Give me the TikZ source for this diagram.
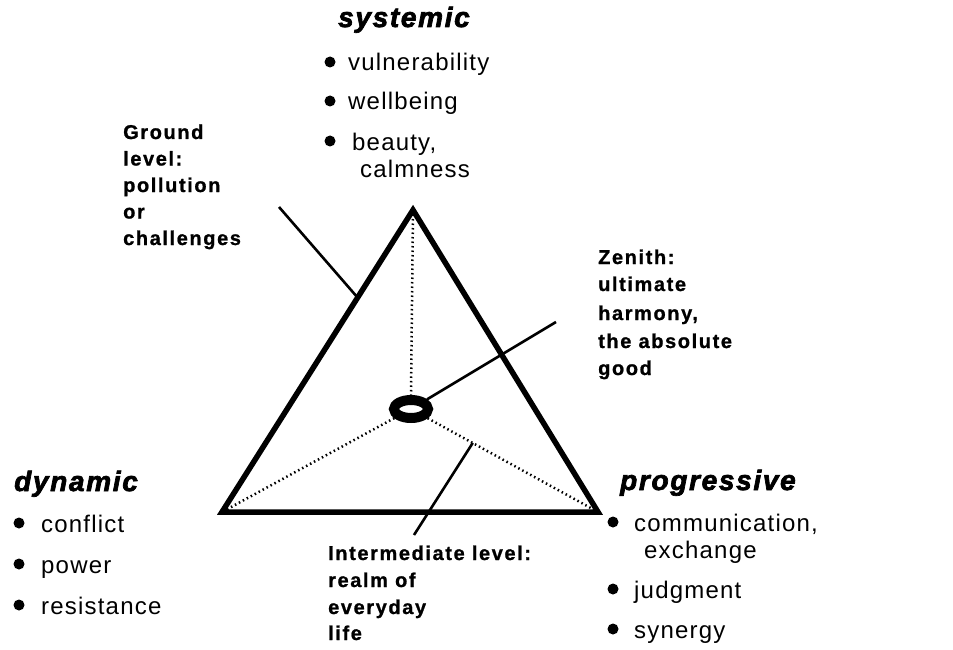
\documentclass[tikz,border=0pt]{standalone}
\usepackage{fontspec}
\setmainfont{Liberation Sans}
\usetikzlibrary{calc,shapes.geometric}
\begin{document}
\begin{tikzpicture}[x=1pt,y=-1pt,
  head/.style={font=\fontsize{28}{30}\selectfont\bfseries\itshape\addfontfeature{FakeBold=2.5,LetterSpace=6}, inner sep=0pt, anchor=base west},
  item/.style={font=\fontsize{24}{28}\selectfont\addfontfeature{LetterSpace=5}, inner sep=0pt, anchor=base west},
  lab/.style={font=\fontsize{20}{22}\selectfont\bfseries\addfontfeature{FakeBold=1,LetterSpace=8}, inner sep=0pt, anchor=base west},
  dotm/.style={circle, fill=black, inner sep=0pt, minimum size=11pt},
  edge/.style={line width=5.5pt, line join=miter},
  dots/.style={line width=2.5pt, dash pattern=on 1.5pt off 3pt},
  lead/.style={line width=2.6pt}]
\useasboundingbox (0,0) rectangle (953,650);

% triangle corners
\coordinate (A) at (413,210);
\coordinate (L) at (222,512);
\coordinate (R) at (598,512);

% zenith ring
\node[draw, ellipse, line width=10pt, minimum width=34pt, minimum height=18pt, inner sep=0pt] (ring) at (411,409) {};

\draw[edge] (A) -- (L) -- (R) -- cycle;

% dotted inner pyramid lines
\draw[dots] (A) -- (ring.north);
\draw[dots] (ring) -- (L);
\draw[dots] (ring) -- (R);

% leader lines
\coordinate (g0) at (279,207);
\coordinate (g1) at ($(A)!0.29!(L)$);
\draw[lead] (g0) -- (g1);
\coordinate (z1) at (556,322);
\draw[lead] (ring) -- (z1);
\coordinate (i0) at (414,535);
\coordinate (i1) at ($(ring)!0.33!(R)$);
\draw[lead] (i0) -- (i1);

% systemic
\node[head, anchor=base] (sys) at (404,27) {systemic};
\node[dotm] (sb1) at (330,62) {};
\node[item] (s1) at (348,71) {vulnerability};
\node[dotm] (sb2) at (330,101) {};
\node[item] (s2) at (348,110) {wellbeing};
\node[dotm] (sb3) at (330,141) {};
\node[item] (s3) at (352,150) {beauty,};
\node[item] (s4) at (360,177) {calmness};

% dynamic
\node[head] (dyn) at (14,491) {dynamic};
\node[dotm] (db1) at (19,523) {};
\node[item] (d1) at (41,532) {conflict};
\node[dotm] (db2) at (19,564) {};
\node[item] (d2) at (41,573) {power};
\node[dotm] (db3) at (19,605) {};
\node[item] (d3) at (41,614) {resistance};

% progressive
\node[head] (pro) at (620,490) {progressive};
\node[dotm] (pb1) at (613,522) {};
\node[item] (p1) at (634,531) {communication,};
\node[item] (p2) at (644,558) {exchange};
\node[dotm] (pb2) at (613,589) {};
\node[item] (p3) at (634,598) {judgment};
\node[dotm] (pb3) at (613,629) {};
\node[item] (p4) at (634,638) {synergy};

% ground level label
\node[lab] (gl1) at (123,139) {Ground};
\node[lab] (gl2) at (123,165.5) {level:};
\node[lab] (gl3) at (123,192) {pollution};
\node[lab] (gl4) at (123,218.5) {or};
\node[lab] (gl5) at (123,245) {challenges};

% zenith label
\node[lab] (zl1) at (598,264) {Zenith:};
\node[lab] (zl2) at (598,291) {ultimate};
\node[lab] (zl3) at (598,320) {harmony,};
\node[lab] (zl4) at (598,348) {the absolute};
\node[lab] (zl5) at (598,375) {good};

% intermediate label
\node[lab] (il1) at (328,560) {Intermediate level:};
\node[lab] (il2) at (328,587) {realm of};
\node[lab] (il3) at (328,614) {everyday};
\node[lab] (il4) at (328,640) {life};
\end{tikzpicture}
\end{document}
